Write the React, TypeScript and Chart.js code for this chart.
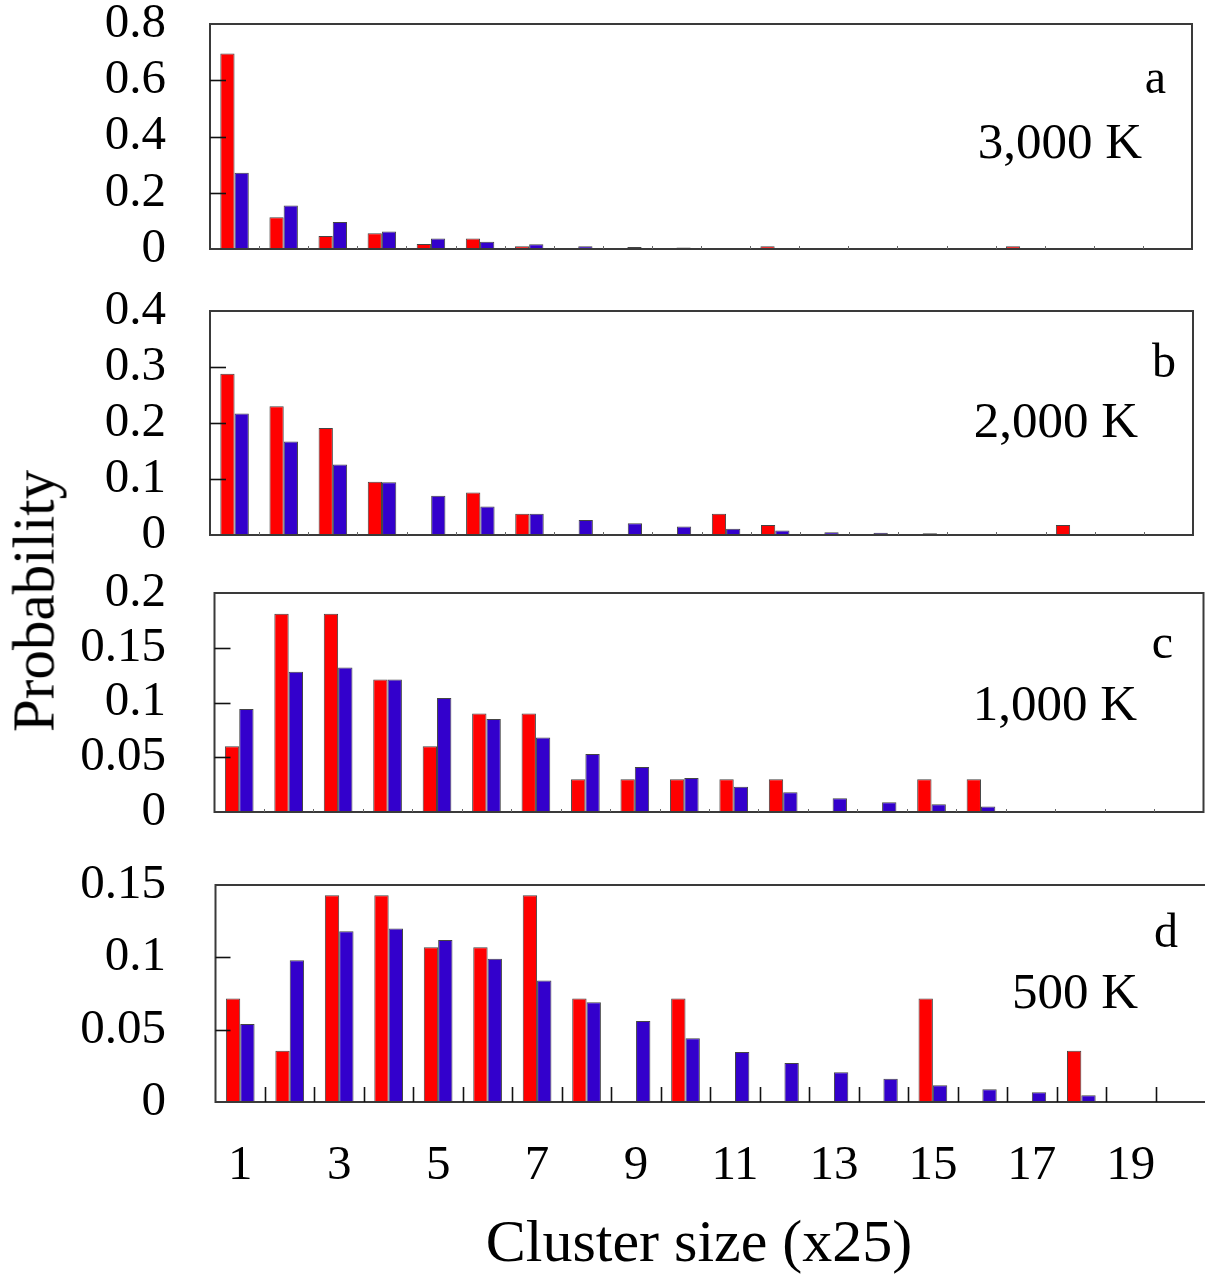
import React, { useEffect, useRef } from 'react';
import { Chart, registerables } from 'chart.js';

Chart.register(...registerables);

// ---------- data ----------
const categories = ['1', '2', '3', '4', '5', '6', '7', '8', '9', '10', '11', '12', '13', '14', '15', '16', '17', '18', '19', '20'];
const xTickLabels = ['1', '3', '5', '7', '9', '11', '13', '15', '17', '19'];

const redA = [0.695, 0.113, 0.046, 0.056, 0.018, 0.037, 0.010, 0, 0, 0, 0, 0.010, 0, 0, 0, 0, 0.010, 0, 0, 0];
const blueA = [0.271, 0.155, 0.096, 0.062, 0.037, 0.026, 0.017, 0.010, 0.007, 0.005, 0.003, 0.003, 0.002, 0.002, 0.002, 0.002, 0.002, 0, 0, 0];

const redB = [0.288, 0.230, 0.191, 0.095, 0, 0.076, 0.038, 0, 0, 0, 0.038, 0.018, 0, 0, 0, 0, 0, 0.018, 0, 0];
const blueB = [0.217, 0.167, 0.126, 0.094, 0.070, 0.051, 0.038, 0.027, 0.021, 0.015, 0.011, 0.008, 0.005, 0.004, 0.003, 0.001, 0.001, 0, 0, 0];

const redC = [0.060, 0.181, 0.181, 0.121, 0.060, 0.090, 0.090, 0.030, 0.030, 0.030, 0.030, 0.030, 0, 0, 0.030, 0.030, 0, 0, 0, 0];
const blueC = [0.094, 0.128, 0.132, 0.121, 0.104, 0.085, 0.068, 0.053, 0.041, 0.031, 0.023, 0.018, 0.0125, 0.009, 0.007, 0.005, 0, 0, 0, 0];

const redD = [0.0715, 0.0355, 0.143, 0.143, 0.107, 0.107, 0.143, 0.0715, 0, 0.0715, 0, 0, 0, 0, 0.0715, 0, 0, 0.0355, 0, 0];
const blueD = [0.054, 0.098, 0.118, 0.120, 0.112, 0.099, 0.084, 0.069, 0.056, 0.044, 0.0346, 0.027, 0.0205, 0.016, 0.0115, 0.0088, 0.0067, 0.0046, 0, 0];

const yTicksA = [0, 0.2, 0.4, 0.6, 0.8];
const yLabelsA = ['0', '0.2', '0.4', '0.6', '0.8'];
const yTicksB = [0, 0.1, 0.2, 0.3, 0.4];
const yLabelsB = ['0', '0.1', '0.2', '0.3', '0.4'];
const yTicksC = [0, 0.05, 0.1, 0.15, 0.2];
const yLabelsC = ['0', '0.05', '0.1', '0.15', '0.2'];
const yTicksD = [0, 0.05, 0.1, 0.15];
const yLabelsD = ['0', '0.05', '0.1', '0.15'];

const panelLetters = ['a', 'b', 'c', 'd'];
const temperatures = ['3,000 K', '2,000 K', '1,000 K', '500 K'];

// ---------- styling / layout ----------
const SERIF = '"Liberation Serif", "Times New Roman", Times, serif';
const RED = '#ff0000';
const BLUE = '#3300cc';

type Panel = {
  red: number[];
  blue: number[];
  yMax: number;
  yTicks: number[];
  yLabels: string[];
  letter: string;
  temp: string;
  canvasTop: number;
  canvasHeight: number;
  pad: { left: number; right: number; top: number; bottom: number };
  xTickLen: number;
  yTickLen: number;
  letterPos: [number, number];
  tempPos: [number, number];
  showX: boolean;
  drawRight: boolean;
};

const panels: Panel[] = [
  {
    red: redA, blue: blueA, yMax: 0.8, yTicks: yTicksA, yLabels: yLabelsA,
    letter: panelLetters[0], temp: temperatures[0],
    canvasTop: 0, canvasHeight: 290,
    pad: { left: 210, right: 13, top: 24, bottom: 41 },
    xTickLen: 3, yTickLen: 16,
    letterPos: [1166, 93], tempPos: [1142, 158], showX: false, drawRight: true,
  },
  {
    red: redB, blue: blueB, yMax: 0.4, yTicks: yTicksB, yLabels: yLabelsB,
    letter: panelLetters[1], temp: temperatures[1],
    canvasTop: 290, canvasHeight: 280,
    pad: { left: 210, right: 12, top: 21, bottom: 35 },
    xTickLen: 3, yTickLen: 16,
    letterPos: [1176, 377], tempPos: [1138, 437], showX: false, drawRight: true,
  },
  {
    red: redC, blue: blueC, yMax: 0.2, yTicks: yTicksC, yLabels: yLabelsC,
    letter: panelLetters[2], temp: temperatures[2],
    canvasTop: 570, canvasHeight: 280,
    pad: { left: 214.5, right: 1.5, top: 23, bottom: 38 },
    xTickLen: 3, yTickLen: 16,
    letterPos: [1173, 658], tempPos: [1137, 720], showX: false, drawRight: true,
  },
  {
    red: redD, blue: blueD, yMax: 0.15, yTicks: yTicksD, yLabels: yLabelsD,
    letter: panelLetters[3], temp: temperatures[3],
    canvasTop: 850, canvasHeight: 426,
    pad: { left: 215.5, right: 0, top: 35, bottom: 174 },
    xTickLen: 15, yTickLen: 15,
    letterPos: [1178, 947], tempPos: [1138, 1008], showX: true, drawRight: false,
  },
];

const decorPlugin = {
  id: 'panelDecor',
  afterDraw(chart: any, _args: any, opts: any) {
    const p: Panel = opts.panel;
    if (!p) return;
    const { ctx, chartArea } = chart;
    const { left, right, top, bottom } = chartArea;
    const x = chart.scales.x;
    const y = chart.scales.y;
    ctx.save();

    // frame
    ctx.strokeStyle = '#3a3a3a';
    ctx.lineWidth = 2;
    ctx.beginPath();
    ctx.moveTo(right + (p.drawRight ? 0 : 5), top);
    ctx.lineTo(left, top);
    ctx.lineTo(left, bottom);
    ctx.lineTo(right + (p.drawRight ? 0 : 5), bottom);
    if (p.drawRight) ctx.closePath();
    ctx.stroke();

    // inward y ticks
    ctx.strokeStyle = '#111';
    ctx.lineWidth = 1.6;
    p.yTicks.forEach((v) => {
      if (v <= 0 || v >= p.yMax) return;
      const py = Math.round(y.getPixelForValue(v)) + 0.5;
      ctx.beginPath();
      ctx.moveTo(left, py);
      ctx.lineTo(left + p.yTickLen, py);
      ctx.stroke();
    });

    // inward x ticks at category boundaries
    ctx.lineWidth = p.xTickLen > 5 ? 1.6 : 1;
    ctx.strokeStyle = p.xTickLen > 5 ? '#111' : '#666';
    for (let i = 0; i < categories.length - 1; i++) {
      const px = Math.round((x.getPixelForValue(i) + x.getPixelForValue(i + 1)) / 2) + 0.5;
      ctx.beginPath();
      ctx.moveTo(px, bottom);
      ctx.lineTo(px, bottom - p.xTickLen);
      ctx.stroke();
    }

    // y tick labels
    ctx.fillStyle = '#000';
    ctx.font = `49px ${SERIF}`;
    ctx.textAlign = 'right';
    ctx.textBaseline = 'middle';
    p.yTicks.forEach((v, i) => {
      const py = y.getPixelForValue(v);
      ctx.fillText(p.yLabels[i], 166, py);
    });

    // panel letter & temperature
    ctx.textBaseline = 'alphabetic';
    ctx.font = `48px ${SERIF}`;
    ctx.fillText(p.letter, p.letterPos[0], p.letterPos[1] - p.canvasTop);
    ctx.font = `51px ${SERIF}`;
    ctx.fillText(p.temp, p.tempPos[0], p.tempPos[1] - p.canvasTop);

    // x tick labels (bottom panel only)
    if (p.showX) {
      ctx.textAlign = 'center';
      ctx.font = `49px ${SERIF}`;
      xTickLabels.forEach((lab) => {
        const idx = categories.indexOf(lab);
        const px = x.getPixelForValue(idx);
        ctx.fillText(lab, px, 1179 - p.canvasTop);
      });
    }
    ctx.restore();
  },
};

function PanelChart({ panel }: { panel: Panel }) {
  const ref = useRef<HTMLCanvasElement | null>(null);
  useEffect(() => {
    if (!ref.current) return;
    const chart = new Chart(ref.current, {
      type: 'bar',
      data: {
        labels: categories,
        datasets: [
          {
            data: panel.red,
            backgroundColor: RED,
            borderColor: '#444',
            borderWidth: 1,
            categoryPercentage: 0.58,
            barPercentage: 1,
          },
          {
            data: panel.blue,
            backgroundColor: BLUE,
            borderColor: '#444',
            borderWidth: 1,
            categoryPercentage: 0.58,
            barPercentage: 1,
          },
        ],
      },
      options: {
        responsive: false,
        animation: false,
        devicePixelRatio: 1,
        layout: { padding: panel.pad },
        plugins: {
          legend: { display: false },
          tooltip: { enabled: false },
          panelDecor: { panel },
        } as any,
        scales: {
          x: { type: 'category', display: false, offset: true },
          y: { display: false, min: 0, max: panel.yMax },
        },
      },
      plugins: [decorPlugin],
    });
    return () => chart.destroy();
  }, [panel]);
  return (
    <canvas
      ref={ref}
      width={1205}
      height={panel.canvasHeight}
      style={{ position: 'absolute', left: 0, top: panel.canvasTop, width: 1205, height: panel.canvasHeight }}
    />
  );
}

export default function App() {
  return (
    <div style={{ position: 'absolute', left: 0, top: 0, width: 1205, height: 1276, background: '#fff', overflow: 'hidden' }}>
      {panels.map((p, i) => (
        <PanelChart key={i} panel={p} />
      ))}
      <div
        style={{
          position: 'absolute',
          left: 34,
          top: 601,
          transform: 'translate(-50%, -50%) rotate(-90deg)',
          font: `59px ${SERIF}`,
          lineHeight: '59px',
          height: 59,
          whiteSpace: 'nowrap',
          color: '#000',
        }}
      >
        Probability
      </div>
      <div
        style={{
          position: 'absolute',
          left: 699,
          top: 1211,
          transform: 'translateX(-50%)',
          font: `60px ${SERIF}`,
          lineHeight: '60px',
          whiteSpace: 'nowrap',
          color: '#000',
        }}
      >
        Cluster size (x25)
      </div>
    </div>
  );
}
